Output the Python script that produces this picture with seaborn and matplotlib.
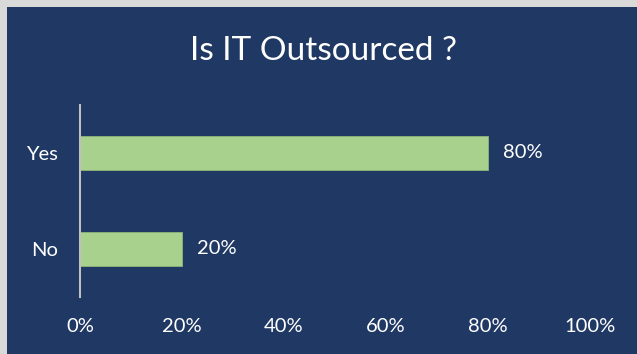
import matplotlib
matplotlib.use("Agg")
import matplotlib.pyplot as plt
import seaborn as sns
import pandas as pd
from matplotlib.patches import Rectangle

categories = ["Yes", "No"]
values = [80, 20]
xticks = [0, 20, 40, 60, 80, 100]
xtick_labels = ["0%", "20%", "40%", "60%", "80%", "100%"]
title = "Is IT Outsourced ?"

NAVY = "#203864"
GREEN = "#A9D18E"

sns.set_theme(style="white")
plt.rcParams['font.family'] = ['Lato', 'DejaVu Sans']

W, H = 637, 354
fig = plt.figure(figsize=(W / 100, H / 100), dpi=100, facecolor="#D9D9D9")
fig.patches.append(Rectangle((7 / W, 0), (637 - 7) / W, (H - 6.5) / H,
                             transform=fig.transFigure, facecolor=NAVY,
                             edgecolor="none", zorder=-10))

ax = fig.add_axes([80 / W, (H - 297) / H, (590 - 80) / W, (297 - 105) / H])
ax.set_facecolor("none")
ax.set_zorder(5)

df = pd.DataFrame({"cat": categories, "val": values})
sns.barplot(data=df, y="cat", x="val", orient="h", color=GREEN,
            width=0.36, saturation=1, ax=ax, edgecolor="#8FB478", linewidth=0.6)

ax.set_xlim(0, 100)
ax.set_ylim(1.5, -0.5)
ax.set_xticks(xticks)
ax.set_xticklabels(xtick_labels)
ax.set_xlabel("")
ax.set_ylabel("")
for s in ["top", "right", "bottom"]:
    ax.spines[s].set_visible(False)
ax.spines["left"].set_color("#BFBFBF")
ax.spines["left"].set_linewidth(1.5)
ax.tick_params(axis="x", length=0, pad=15, labelsize=14.5, colors="white")
ax.tick_params(axis="y", length=0, pad=16, labelsize=14.5, colors="white")

for c in ax.containers:
    ax.bar_label(c, labels=[f"{v}%" for v in values], padding=11,
                 color="white", fontsize=14.5)

fig.text(324 / W, (H - 51) / H, title, ha="center", va="center",
         color="white", fontsize=24, zorder=6)

fig.savefig("out.png", dpi=100, facecolor=fig.get_facecolor())
